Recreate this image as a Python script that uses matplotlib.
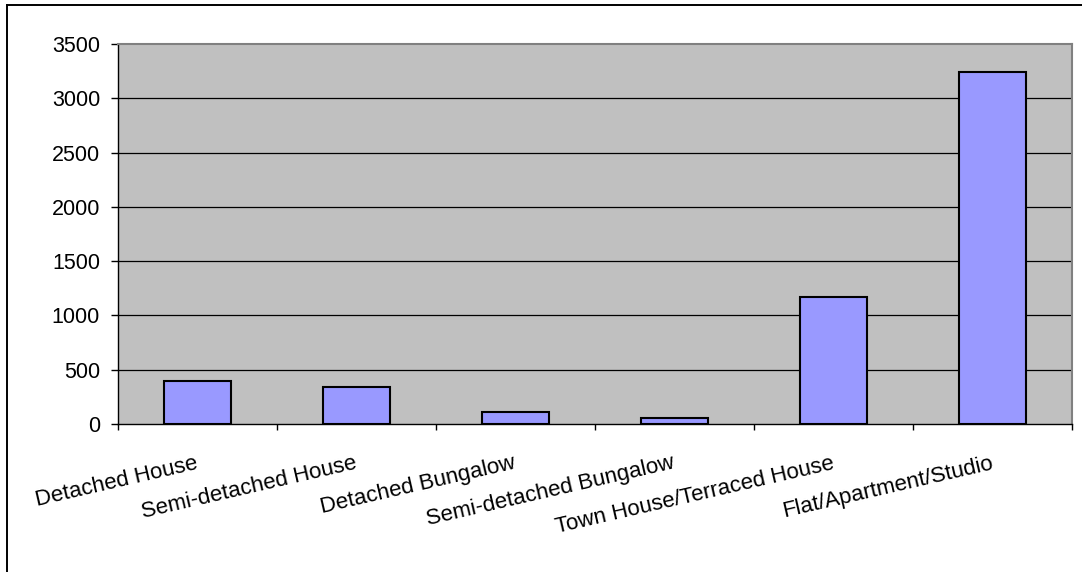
import matplotlib.pyplot as plt
from matplotlib.lines import Line2D
from matplotlib.transforms import offset_copy

plt.rcParams["font.family"] = ["Liberation Sans", "DejaVu Sans"]

# Dwelling type counts
dwelling_types = [
    "Detached House",
    "Semi-detached House",
    "Detached Bungalow",
    "Semi-detached Bungalow",
    "Town House/Terraced House",
    "Flat/Apartment/Studio",
]
counts = [400, 345, 107, 54, 1172, 3243]
y_ticks = [0, 500, 1000, 1500, 2000, 2500, 3000, 3500]

fig = plt.figure(figsize=(10.82, 5.72), dpi=100)
ax = fig.add_axes([0.1091, 0.2587, 0.8817, 0.6644])

# outer chart frame (only top and left edges fall inside the canvas)
fig.add_artist(Line2D([0.0065, 1.0], [0.991, 0.991], transform=fig.transFigure,
                      color="black", linewidth=1.4))
fig.add_artist(Line2D([0.0065, 0.0065], [0.0, 0.991], transform=fig.transFigure,
                      color="black", linewidth=1.4))

ax.set_facecolor("#C0C0C0")
positions = range(len(dwelling_types))
ax.bar(positions, counts, width=0.42, color="#9999FF", edgecolor="black",
       linewidth=1.5, zorder=3)

ax.set_xlim(-0.5, len(dwelling_types) - 0.5)
ax.set_ylim(0, 3500)
ax.set_yticks(y_ticks)
ax.set_yticklabels([str(v) for v in y_ticks], fontsize=15.5)
for v in y_ticks[1:-1]:
    ax.axhline(v, color="black", linewidth=0.9, zorder=1)

# category separators as tick marks, labels placed separately
ax.set_xticks([i - 0.5 for i in range(len(dwelling_types) + 1)])
ax.set_xticklabels([])
ax.tick_params(axis="x", direction="out", length=4.5, width=1, color="black")
ax.tick_params(axis="y", direction="out", length=5, width=1, color="black",
               pad=8)

label_trans = offset_copy(ax.get_xaxis_transform(), fig=fig, x=0, y=-39,
                          units="dots")
for i, name in enumerate(dwelling_types):
    ax.text(i, 0, name, transform=label_trans, rotation=13,
            rotation_mode="anchor", ha="right", va="center", fontsize=16)

for side in ("top", "right"):
    ax.spines[side].set_color("#808080")
    ax.spines[side].set_linewidth(1.5)
ax.spines["left"].set_color("black")
ax.spines["bottom"].set_color("black")
ax.spines["left"].set_linewidth(1)
ax.spines["bottom"].set_linewidth(1)

fig.savefig("out.png", dpi=100)
